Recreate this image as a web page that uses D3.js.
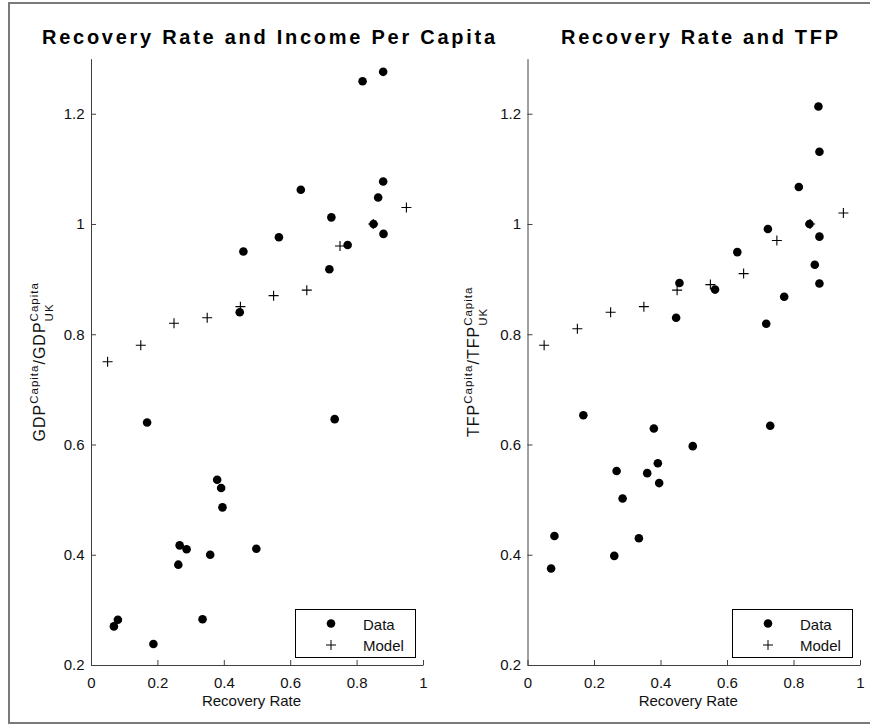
<!DOCTYPE html>
<html>
<head>
<meta charset="utf-8">
<script src="https://cdn.jsdelivr.net/npm/d3@7"></script>
<style>
  body { margin: 0; background: #fff; }
  svg { display: block; font-family: "Liberation Sans", Arial, sans-serif; }
</style>
</head>
<body>
<svg id="fig" width="870" height="725"></svg>
<script>
// ---- data ----
const modelRate = [0.05, 0.15, 0.25, 0.35, 0.45, 0.55, 0.65, 0.75, 0.85, 0.95];
const modelIncome = [0.75, 0.78, 0.82, 0.83, 0.85, 0.87, 0.88, 0.96, 1.00, 1.03];
const modelTfp = [0.78, 0.81, 0.84, 0.85, 0.88, 0.89, 0.91, 0.97, 1.00, 1.02];

const incomeRate = [0.818, 0.880, 0.880, 0.865, 0.632, 0.724, 0.851, 0.881, 0.566, 0.459, 0.773, 0.718, 0.448,
  0.169, 0.734, 0.380, 0.392, 0.396, 0.267, 0.288, 0.263, 0.359, 0.498, 0.081, 0.069, 0.336, 0.188];
const incomeValue = [1.259, 1.276, 1.077, 1.048, 1.062, 1.012, 1.000, 0.982, 0.976, 0.950, 0.962, 0.918, 0.840,
  0.640, 0.646, 0.536, 0.521, 0.486, 0.417, 0.410, 0.382, 0.400, 0.411, 0.282, 0.270, 0.283, 0.238];

const tfpRate = [0.875, 0.878, 0.816, 0.848, 0.878, 0.723, 0.631, 0.864, 0.878, 0.772, 0.718, 0.457, 0.564, 0.447,
  0.168, 0.380, 0.730, 0.497, 0.392, 0.268, 0.360, 0.396, 0.286, 0.081, 0.335, 0.261, 0.071];
const tfpValue = [1.213, 1.131, 1.067, 1.000, 0.977, 0.991, 0.949, 0.926, 0.892, 0.868, 0.819, 0.893, 0.881, 0.830,
  0.653, 0.629, 0.634, 0.597, 0.566, 0.552, 0.548, 0.530, 0.502, 0.434, 0.430, 0.398, 0.375];

const xTicks = [0, 0.2, 0.4, 0.6, 0.8, 1];
const yTicks = [0.2, 0.4, 0.6, 0.8, 1, 1.2];
const legendLabels = ["Data", "Model"];

// ---- layout ----
const AXIS_COLOR = "#404040",
  TEXT_COLOR = "#111",
  Y_TOP = 58.6,
  Y_BOTTOM = 665,
  DOT_R = 4.3,
  PLUS = 5;

const svg = d3.select("#fig");

// outer figure frame
svg.append("rect")
  .attr("x", 9).attr("y", 3)
  .attr("width", 870).attr("height", 720)
  .attr("fill", "none")
  .attr("stroke", "#7a7a7a")
  .attr("stroke-width", 2);

const panels = [
  {
    title: "Recovery Rate and Income Per Capita", titleX: 42, titleW: 453,
    left: 91, right: 423, labelX: 45, base: "GDP",
    rate: incomeRate, value: incomeValue, model: modelIncome
  },
  {
    title: "Recovery Rate and TFP", titleX: 561, titleW: 277,
    left: 527.5, right: 860, labelX: 479, base: "TFP",
    rate: tfpRate, value: tfpValue, model: modelTfp
  }
];

const plusPath = `M${-PLUS},0H${PLUS}M0,${-PLUS}V${PLUS}`;

function drawPanel(p) {
  const x = d3.scaleLinear().domain([0, 1]).range([p.left, p.right]);
  const y = d3.scaleLinear().domain([0.2, 1.3]).range([Y_BOTTOM, Y_TOP]);
  const g = svg.append("g");

  // title
  g.append("text")
    .attr("x", p.titleX).attr("y", 44)
    .attr("textLength", p.titleW)
    .attr("lengthAdjust", "spacing")
    .style("font-size", "20px")
    .style("font-weight", "bold")
    .attr("fill", "#000")
    .text(p.title);

  // axes
  const xAxis = g.append("g")
    .attr("transform", `translate(0,${Y_BOTTOM})`)
    .call(d3.axisBottom(x).tickValues(xTicks).tickFormat(d3.format("~g"))
      .tickSizeInner(-5).tickSizeOuter(0).tickPadding(12));
  const yAxis = g.append("g")
    .attr("transform", `translate(${p.left},0)`)
    .call(d3.axisLeft(y).tickValues(yTicks).tickFormat(d3.format("~g"))
      .tickSizeInner(-5).tickSizeOuter(0).tickPadding(6.5));
  [xAxis, yAxis].forEach(a => {
    a.attr("font-family", null).attr("font-size", null);
    a.select(".domain").attr("stroke", AXIS_COLOR);
    a.selectAll(".tick line").attr("stroke", AXIS_COLOR);
    a.selectAll(".tick text").attr("fill", TEXT_COLOR).style("font-size", "15px");
  });

  // x label
  g.append("text")
    .attr("x", (p.left + p.right) / 2 - 5.5)
    .attr("y", 706)
    .attr("text-anchor", "middle")
    .attr("fill", TEXT_COLOR)
    .style("font-size", "15px")
    .text("Recovery Rate");

  // y label with super/subscripts
  const cy = (Y_TOP + Y_BOTTOM) / 2;
  const lab = g.append("g").attr("transform", `translate(${p.labelX},${cy}) rotate(-90)`);
  const t = lab.append("text")
    .attr("fill", TEXT_COLOR)
    .style("font-size", "16px")
    .style("letter-spacing", "1px");
  t.append("tspan").text(p.base);
  t.append("tspan").attr("dy", -7).style("font-size", "11.5px").text("Capita");
  t.append("tspan").attr("dy", 7).text("/" + p.base);
  t.append("tspan").attr("dy", -7).style("font-size", "11.5px").text("Capita");
  const startC = t.node().getStartPositionOfChar(p.base.length * 2 + 7).x;
  const total = t.node().getComputedTextLength();
  t.append("tspan").attr("x", startC).attr("dy", 15).style("font-size", "11.5px").text("UK");
  t.attr("transform", `translate(${-total / 2},0)`);

  // data dots
  g.append("g").selectAll("circle")
    .data(d3.zip(p.rate, p.value))
    .join("circle")
    .attr("cx", d => x(d[0]))
    .attr("cy", d => y(d[1]))
    .attr("r", DOT_R)
    .attr("fill", "#000");

  // model pluses
  g.append("g").selectAll("path")
    .data(d3.zip(modelRate, p.model))
    .join("path")
    .attr("transform", d => `translate(${x(d[0])},${y(d[1])})`)
    .attr("d", plusPath)
    .attr("stroke", "#000")
    .attr("stroke-width", 1.1)
    .attr("fill", "none");

  // legend
  const bw = 120, bh = 48;
  const bx = p.right - 8 - bw, by = Y_BOTTOM - 8 - bh;
  const lg = g.append("g").attr("transform", `translate(${bx},${by})`);
  lg.append("rect")
    .attr("x", 0.5).attr("y", 0.5)
    .attr("width", bw).attr("height", bh)
    .attr("fill", "#fff")
    .attr("stroke", "#000")
    .attr("stroke-width", 1);
  lg.append("circle").attr("cx", 36).attr("cy", 14.5).attr("r", DOT_R).attr("fill", "#000");
  lg.append("path")
    .attr("transform", "translate(36,36)")
    .attr("d", plusPath)
    .attr("stroke", "#000")
    .attr("stroke-width", 1)
    .attr("fill", "none");
  lg.selectAll("text.lbl")
    .data(legendLabels)
    .join("text")
    .attr("class", "lbl")
    .attr("x", 68)
    .attr("y", (d, i) => 20.5 + i * 21)
    .attr("fill", TEXT_COLOR)
    .style("font-size", "15px")
    .text(d => d);
}

panels.forEach(drawPanel);
</script>
</body>
</html>
